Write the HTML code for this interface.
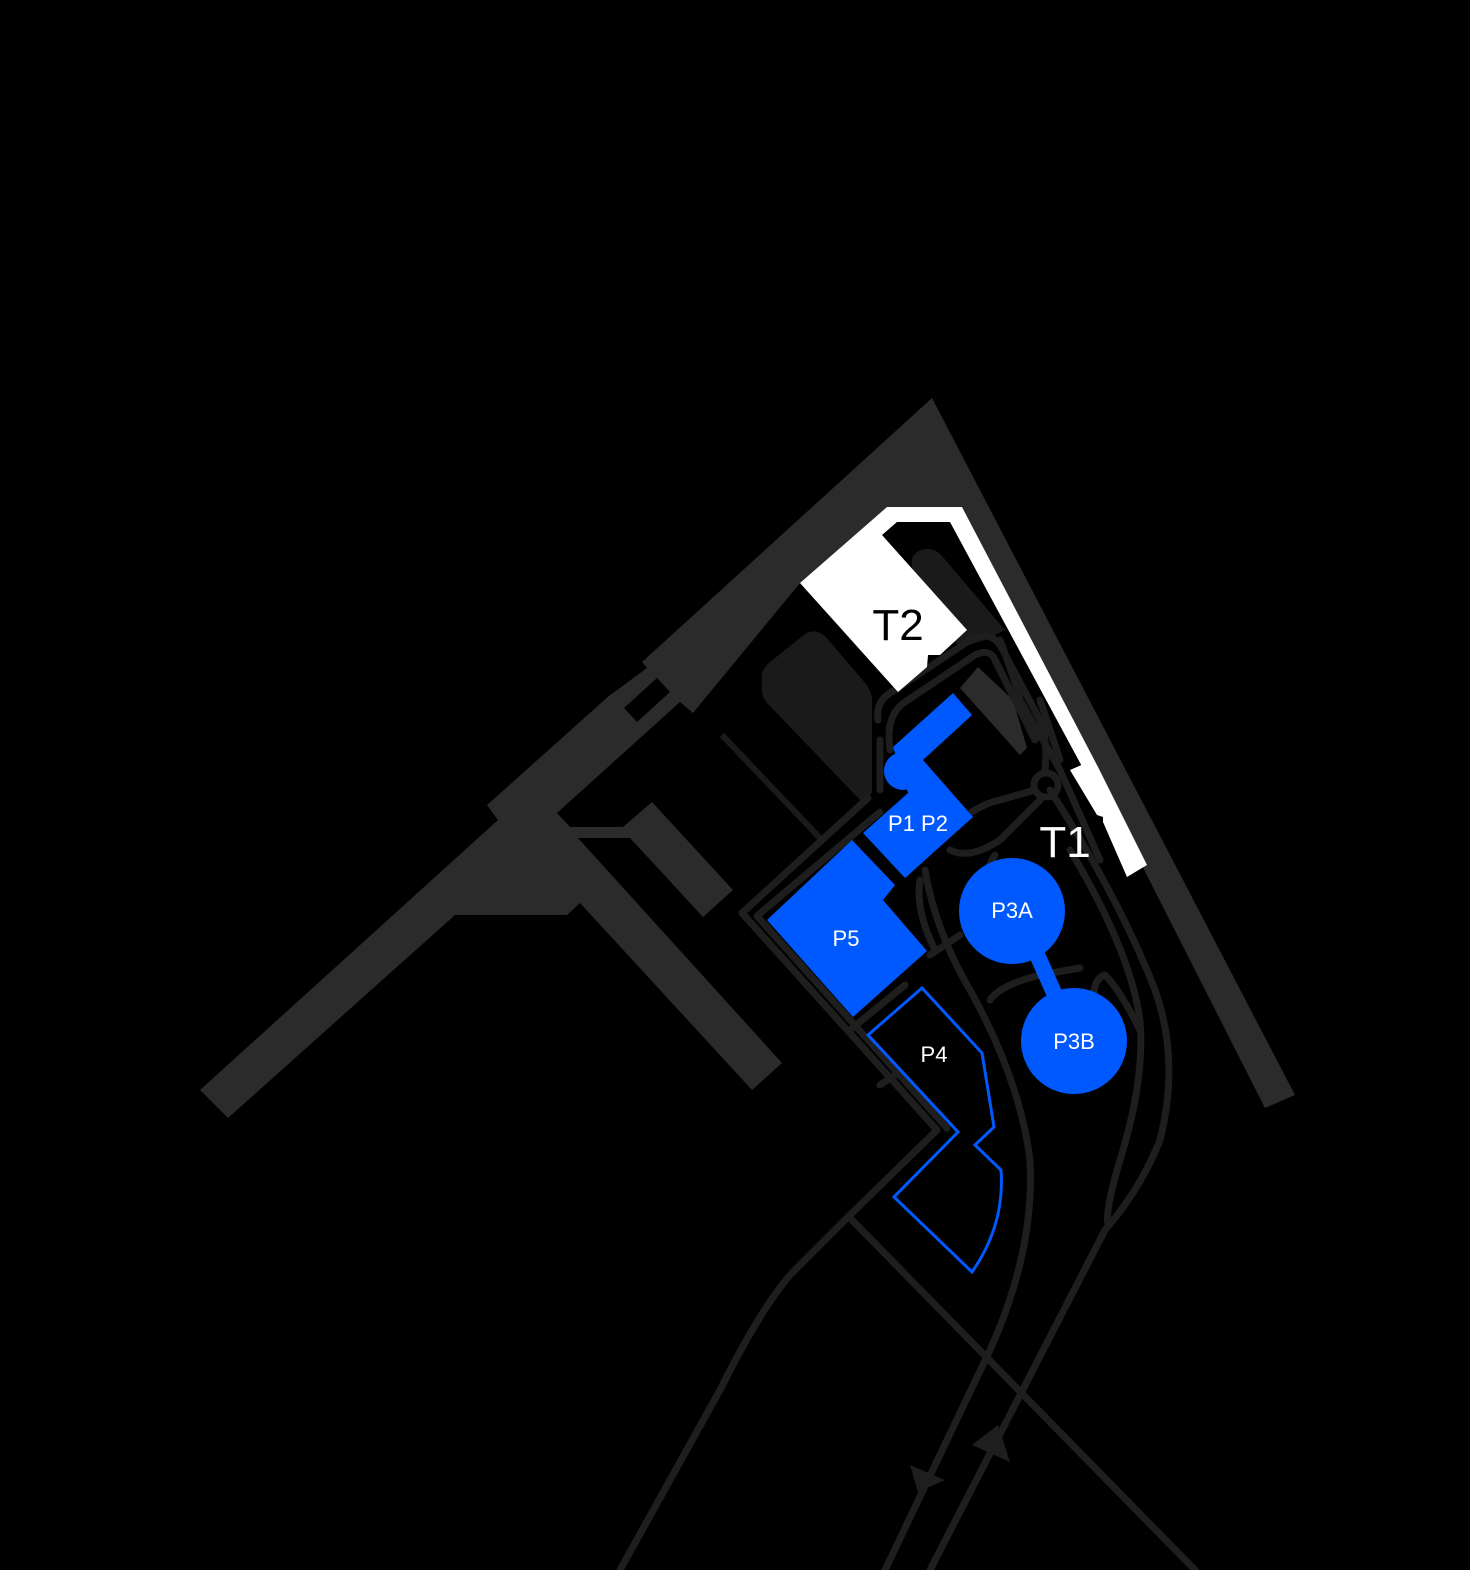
<!DOCTYPE html>
<html><head><meta charset="utf-8"><style>html,body{margin:0;padding:0;background:#000}svg{display:block}</style></head>
<body>
<svg width="1470" height="1570" viewBox="0 0 1470 1570" xmlns="http://www.w3.org/2000/svg">
<rect width="1470" height="1570" fill="#000"/>
<polygon fill="#2b2b2b" points="932,398 1295,1095 1265,1108 960,507 887,507 800,583 693,713 680,702 557,813 570,827 623,827 652,802 733,890 703,917 630,838 578,838 782,1063 752,1090 580,903 567,915 455,915 228,1118 200,1090 498,820 487,805 610,695 613,693 647,668 642,662"/>
<polygon fill="#000" points="624,708 657,678 670,692 637,722"/>
<path fill="#1a1a1a" d="M762,680 Q760,670 770,662 L805,634 Q815,628 825,636 L866,684 Q872,692 872,700 L872,793 L862,802 L768,704 Q762,698 762,690 Z"/>
<path fill="#1a1a1a" d="M912,565 Q910,552 925,549 Q935,548 942,556 L1005,630 L985,640 L960,648 L915,590 Z"/>
<polygon fill="#2b2b2b" points="960,688 978,667 1013,700 1027,748 1020,755"/>
<line x1="722" y1="735" x2="820" y2="838" stroke="#1a1a1a" stroke-width="6"/>
<g fill="none" stroke="#1e1e1e" stroke-width="7" stroke-linejoin="round" stroke-linecap="round">
<polyline points="868,798 742,913 937,1130 850,1215"/>
<polyline points="880,812 757,916 947,1128"/>
<path d="M850,1215 L790,1275 Q760,1310 720,1390 L620,1570"/>
<line x1="850" y1="1218" x2="1195" y2="1570"/>
<path d="M880,740 L880,790 M878,720 Q875,700 895,690 L970,640 Q990,630 1000,645 L1040,720 Q1048,740 1045,770"/>
<path d="M890,750 Q885,715 905,702 L975,655 Q990,648 995,660 L1035,740"/>
<path d="M925,870 Q935,930 970,990 Q1020,1080 1030,1160 Q1035,1250 990,1350 L885,1570"/>
<path d="M920,880 Q915,910 935,950"/>
<path d="M1050,790 Q1120,900 1155,990 Q1180,1060 1160,1140 Q1140,1190 1105,1230 L930,1570"/>
<path d="M1070,850 Q1130,950 1140,1020 Q1145,1080 1120,1160 Q1105,1210 1108,1225"/>
<path d="M1000,640 Q1015,680 1020,700 L1060,770 L1100,860"/>
<path d="M1040,700 L1060,760"/>
<path d="M950,850 Q970,860 1000,840 L1040,800"/>
<path d="M950,830 Q975,805 1000,800 L1035,790"/>
<path d="M995,855 Q985,870 990,880"/>
<path d="M990,1000 Q1000,985 1040,975 L1080,968"/>
<path d="M1095,1010 Q1090,980 1105,975 Q1120,990 1140,1030"/>
<path d="M930,955 L960,935"/>
<path d="M850,1030 L905,985"/>
<path d="M895,1075 L880,1085"/>
</g>
<circle cx="1046" cy="785" r="12" fill="none" stroke="#1e1e1e" stroke-width="7"/>
<polygon fill="#1e1e1e" points="910,1465 945,1480 918,1492"/>
<polygon fill="#1e1e1e" points="972,1445 1010,1462 998,1425"/>
<polygon fill="#fff" points="800,583 887,507 962,507 1098,767 1085,772 950,522 897,522 882,535 967,630 940,655 928,655 927,667 898,692"/>
<polygon fill="#fff" points="1070,770 1093,760 1098,767 1147,865 1127,877 1103,822 1103,817 1097,815"/>
<polygon fill="#0059ff" points="893,747 953,693 972,715 923,760 973,817 905,878 863,833 908,793"/>
<circle cx="903" cy="771" r="19" fill="#0059ff"/>
<polygon fill="#0059ff" points="767,920 852,840 895,885 883,900 927,951 853,1017"/>
<path fill="none" stroke="#0059ff" stroke-width="3" stroke-linejoin="miter" d="M868,1035 L922,988 L982,1053 L994,1127 L975,1145 L1001,1170 Q1005,1225 972,1272 L894,1197 L958,1132 Z"/>
<line x1="1035" y1="950" x2="1055" y2="995" stroke="#0059ff" stroke-width="16"/>
<circle cx="1012" cy="911" r="53" fill="#0059ff"/>
<circle cx="1074" cy="1041" r="53" fill="#0059ff"/>
<g font-family="Liberation Sans, sans-serif" text-anchor="middle">
<text x="898" y="640" font-size="44" fill="#000">T2</text>
<text x="1065" y="857" font-size="44" fill="#fff">T1</text>
<text x="918" y="831" font-size="22" fill="#fff">P1 P2</text>
<text x="846" y="946" font-size="22" fill="#fff">P5</text>
<text x="1012" y="918" font-size="22" fill="#fff">P3A</text>
<text x="1074" y="1049" font-size="22" fill="#fff">P3B</text>
<text x="934" y="1062" font-size="22" fill="#fff">P4</text>
</g>
</svg>
</body></html>
